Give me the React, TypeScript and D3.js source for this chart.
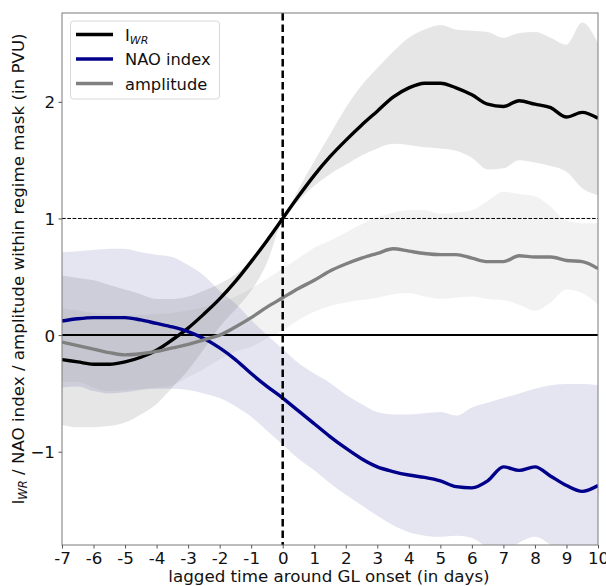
import React, { useEffect, useRef } from 'react';
import * as d3 from 'd3';

// lag in days, half-day steps from -7 to 10
const lags = [-7, -6.5, -6, -5.5, -5, -4.5, -4, -3.5, -3, -2.5, -2, -1.5, -1, -0.5, 0, 0.5, 1, 1.5, 2, 2.5, 3, 3.5, 4, 4.5, 5, 5.5, 6, 6.5, 7, 7.5, 8, 8.5, 9, 9.5, 10];

const iwrMean = [-0.21, -0.23, -0.25, -0.25, -0.23, -0.19, -0.13, -0.04, 0.06, 0.18, 0.31, 0.46, 0.63, 0.81, 1.0, 1.19, 1.37, 1.53, 1.67, 1.80, 1.92, 2.04, 2.12, 2.16, 2.16, 2.12, 2.06, 1.98, 1.96, 2.01, 1.98, 1.95, 1.87, 1.91, 1.86];
const iwrUpper = [0.51, 0.49, 0.47, 0.43, 0.39, 0.35, 0.31, 0.31, 0.33, 0.38, 0.44, 0.52, 0.64, 0.82, 1.0, 1.25, 1.49, 1.72, 1.95, 2.14, 2.29, 2.43, 2.55, 2.62, 2.66, 2.62, 2.61, 2.60, 2.55, 2.59, 2.60, 2.55, 2.49, 2.68, 2.50];
const iwrLower = [-0.77, -0.79, -0.79, -0.78, -0.75, -0.68, -0.59, -0.45, -0.30, -0.12, 0.07, 0.22, 0.38, 0.62, 1.0, 1.15, 1.28, 1.38, 1.46, 1.54, 1.60, 1.64, 1.63, 1.61, 1.60, 1.58, 1.52, 1.42, 1.43, 1.50, 1.48, 1.45, 1.40, 1.26, 1.20];

const naoMean = [0.12, 0.14, 0.15, 0.15, 0.15, 0.13, 0.10, 0.07, 0.03, -0.03, -0.11, -0.21, -0.33, -0.44, -0.54, -0.65, -0.76, -0.87, -0.97, -1.06, -1.13, -1.17, -1.20, -1.22, -1.25, -1.30, -1.31, -1.25, -1.13, -1.16, -1.13, -1.21, -1.29, -1.34, -1.29];
const naoUpper = [0.71, 0.72, 0.73, 0.74, 0.74, 0.71, 0.69, 0.67, 0.60, 0.51, 0.38, 0.27, 0.13, 0.0, -0.12, -0.24, -0.33, -0.41, -0.51, -0.59, -0.66, -0.68, -0.68, -0.67, -0.66, -0.69, -0.62, -0.58, -0.54, -0.50, -0.46, -0.43, -0.42, -0.42, -0.43];
const naoLower = [-0.45, -0.44, -0.48, -0.50, -0.49, -0.47, -0.46, -0.46, -0.47, -0.50, -0.54, -0.61, -0.70, -0.82, -0.94, -1.06, -1.16, -1.27, -1.37, -1.46, -1.55, -1.63, -1.69, -1.72, -1.73, -1.72, -1.74, -1.82, -1.86, -1.78, -1.73, -1.80, -1.90, -1.95, -1.95];

const ampMean = [-0.06, -0.09, -0.12, -0.15, -0.17, -0.16, -0.14, -0.11, -0.08, -0.04, 0.0, 0.07, 0.15, 0.24, 0.32, 0.40, 0.47, 0.55, 0.61, 0.66, 0.70, 0.74, 0.72, 0.70, 0.69, 0.69, 0.66, 0.63, 0.63, 0.68, 0.67, 0.67, 0.64, 0.63, 0.57];
const ampUpper = [0.23, 0.21, 0.19, 0.18, 0.17, 0.17, 0.18, 0.19, 0.21, 0.24, 0.28, 0.33, 0.40, 0.48, 0.57, 0.66, 0.75, 0.81, 0.88, 0.95, 1.01, 1.05, 1.07, 1.07, 1.04, 1.05, 1.07, 1.15, 1.23, 1.21, 1.19, 1.10, 0.98, 0.96, 0.96];
const ampLower = [-0.40, -0.40, -0.45, -0.48, -0.47, -0.46, -0.45, -0.43, -0.36, -0.29, -0.21, -0.14, -0.10, -0.03, 0.04, 0.13, 0.20, 0.25, 0.28, 0.30, 0.32, 0.35, 0.36, 0.33, 0.31, 0.32, 0.33, 0.31, 0.30, 0.26, 0.21, 0.28, 0.39, 0.36, 0.26];

const xTicks = [-7, -6, -5, -4, -3, -2, -1, 0, 1, 2, 3, 4, 5, 6, 7, 8, 9, 10];
const yTicks = [-1, 0, 1, 2];

const W = 606;
const H = 586;
const margin = { top: 13, right: 8, bottom: 41, left: 62 };
const font = 'DejaVu Sans, sans-serif';
const fs = 16.7;

const series = [
	{ mean: iwrMean, upper: iwrUpper, lower: iwrLower, line: '#000000', fill: '#808080', alpha: 0.2 },
	{ mean: naoMean, upper: naoUpper, lower: naoLower, line: '#00008b', fill: '#000080', alpha: 0.1 },
	{ mean: ampMean, upper: ampUpper, lower: ampLower, line: '#808080', fill: '#808080', alpha: 0.1 },
];

export default function App() {
	const ref = useRef<SVGSVGElement>(null);

	useEffect(() => {
		const svg = d3.select(ref.current);
		svg.selectAll('*').remove();

		const x = d3.scaleLinear().domain([-7, 10]).range([margin.left, W - margin.right]);
		const y = d3.scaleLinear().domain([-1.8, 2.762]).range([H - margin.bottom, margin.top]);

		svg.append('defs').append('clipPath').attr('id', 'plot')
			.append('rect')
			.attr('x', margin.left).attr('y', margin.top)
			.attr('width', W - margin.left - margin.right)
			.attr('height', H - margin.top - margin.bottom);

		const g = svg.append('g').attr('clip-path', 'url(#plot)');

		// spread bands
		series.forEach(s => {
			const area = d3.area<number>()
				.curve(d3.curveMonotoneX)
				.x((_, i) => x(lags[i]))
				.y0((_, i) => y(s.lower[i]))
				.y1((_, i) => y(s.upper[i]));
			g.append('path')
				.attr('d', area(s.mean))
				.attr('fill', s.fill)
				.attr('fill-opacity', s.alpha);
		});

		// reference lines
		g.append('line')
			.attr('x1', x(-7)).attr('x2', x(10))
			.attr('y1', y(1)).attr('y2', y(1))
			.attr('stroke', '#000').attr('stroke-width', 1)
			.attr('stroke-dasharray', '3.7,1.6');
		g.append('line')
			.attr('x1', x(-7)).attr('x2', x(10))
			.attr('y1', y(0)).attr('y2', y(0))
			.attr('stroke', '#000').attr('stroke-width', 2);

		// mean lines
		series.forEach(s => {
			const line = d3.line<number>()
				.curve(d3.curveMonotoneX)
				.x((_, i) => x(lags[i]))
				.y(d => y(d));
			g.append('path')
				.attr('d', line(s.mean))
				.attr('fill', 'none')
				.attr('stroke', s.line)
				.attr('stroke-width', 3.4)
				.attr('stroke-linejoin', 'round');
		});

		g.append('line')
			.attr('x1', x(0)).attr('x2', x(0))
			.attr('y1', margin.top).attr('y2', H - margin.bottom)
			.attr('stroke', '#000').attr('stroke-width', 2.5)
			.attr('stroke-dasharray', '7.5,4');

		// frame
		svg.append('rect')
			.attr('x', margin.left).attr('y', margin.top)
			.attr('width', W - margin.left - margin.right)
			.attr('height', H - margin.top - margin.bottom)
			.attr('fill', 'none').attr('stroke', '#7a7a7a').attr('stroke-width', 1);

		// axes
		const xAxis = svg.append('g')
			.attr('transform', `translate(0,${H - margin.bottom})`)
			.call(d3.axisBottom(x).tickValues(xTicks).tickSize(3.5).tickPadding(3.5).tickFormat(d => String(d)));
		const yAxis = svg.append('g')
			.attr('transform', `translate(${margin.left},0)`)
			.call(d3.axisLeft(y).tickValues(yTicks).tickSize(3.5).tickPadding(3.5).tickFormat(d => String(d).replace('-', '\u2212')));
		[xAxis, yAxis].forEach(a => {
			a.select('.domain').remove();
			a.selectAll('line').attr('stroke', '#555');
			a.selectAll('text').attr('font-family', font).attr('font-size', fs).attr('fill', '#111');
		});
		yAxis.selectAll('text').attr('dy', '0.36em');

		// axis labels
		svg.append('text')
			.attr('x', 329).attr('y', 582)
			.attr('text-anchor', 'middle')
			.attr('font-family', font).attr('font-size', fs).attr('fill', '#111')
			.text('lagged time around GL onset (in days)');

		const yl = svg.append('text')
			.attr('transform', 'translate(24,269) rotate(-90)')
			.attr('text-anchor', 'middle')
			.attr('font-family', font).attr('font-size', fs).attr('fill', '#111');
		yl.append('tspan').text('I');
		yl.append('tspan').attr('font-size', 11.5).attr('font-style', 'italic').attr('dy', 3).text('WR');
		yl.append('tspan').attr('dy', -3).text(' / NAO index / amplitude within regime mask (in PVU)');

		// legend
		const lg = svg.append('g');
		lg.append('rect')
			.attr('x', 70.5).attr('y', 21).attr('width', 149).attr('height', 78).attr('rx', 3)
			.attr('fill', '#fff').attr('fill-opacity', 0.8)
			.attr('stroke', '#d8d8d8').attr('stroke-width', 1);
		const rows = [
			{ color: '#000000', label: 'I', sub: 'WR' },
			{ color: '#00008b', label: 'NAO index', sub: '' },
			{ color: '#808080', label: 'amplitude', sub: '' },
		];
		rows.forEach((r, i) => {
			const yy = 34.5 + i * 24.5;
			lg.append('line')
				.attr('x1', 76).attr('x2', 113).attr('y1', yy).attr('y2', yy)
				.attr('stroke', r.color).attr('stroke-width', 3.4);
			const t = lg.append('text')
				.attr('x', 125).attr('y', yy + 6)
				.attr('font-family', font).attr('font-size', 16.3).attr('fill', '#111');
			t.append('tspan').text(r.label);
			if (r.sub) t.append('tspan').attr('font-size', 11).attr('font-style', 'italic').attr('dy', 3).text(r.sub);
		});
	}, []);

	return (
		<svg ref={ref} width={W} height={H}
			style={{ position: 'absolute', left: 0, top: 0, background: '#fff' }} />
	);
}
